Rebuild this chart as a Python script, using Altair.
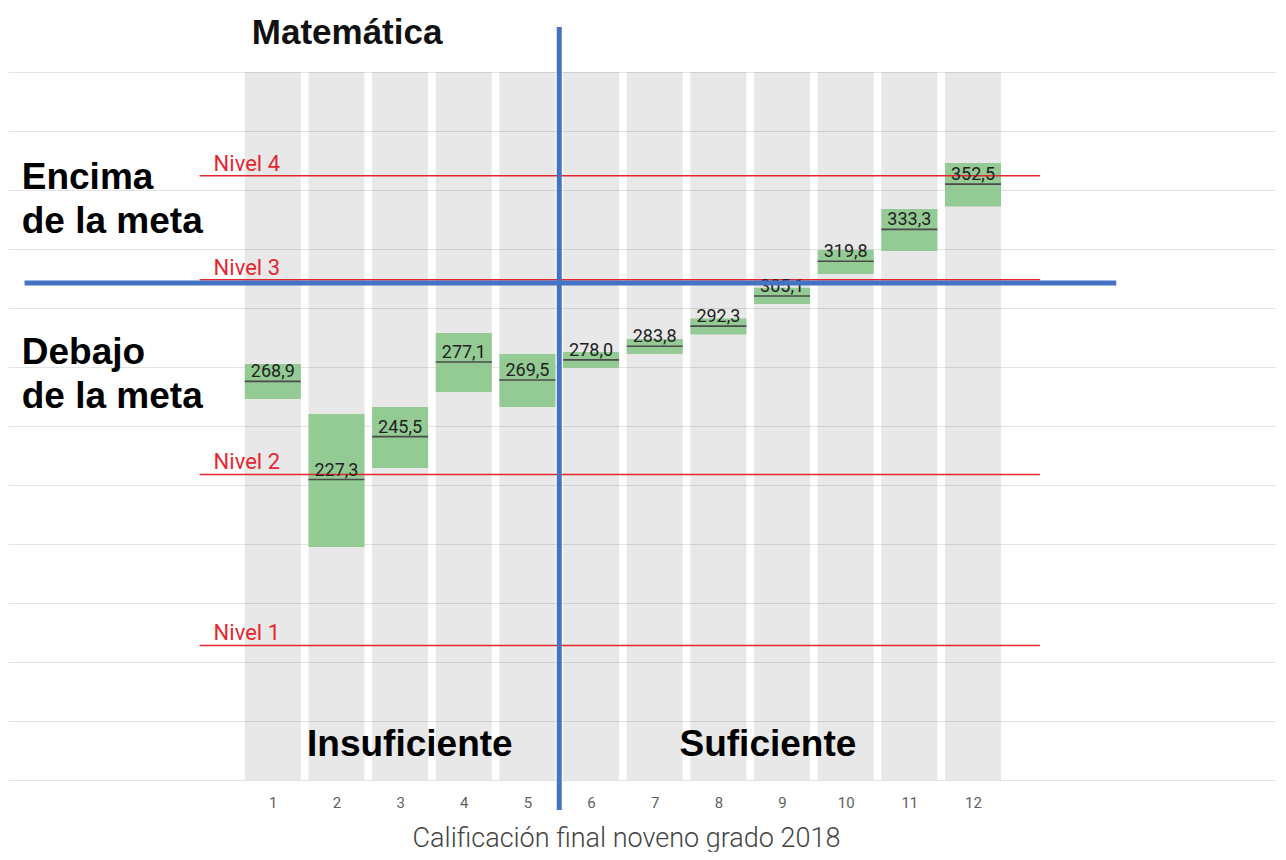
import altair as alt
import pandas as pd

# ---- data ----
grados = [1, 2, 3, 4, 5, 6, 7, 8, 9, 10, 11, 12]
medianas = [268.9, 227.3, 245.5, 277.1, 269.5, 278.0, 283.8, 292.3, 305.1, 319.8, 333.3, 352.5]
limite_inf = [261.4, 198.7, 232.2, 264.4, 258.1, 274.6, 280.5, 288.8, 301.7, 314.4, 324.2, 343.0]
limite_sup = [276.3, 255.1, 258.1, 289.4, 280.5, 281.4, 286.9, 295.6, 308.6, 324.6, 342.0, 361.4]
niveles = ["Nivel 1", "Nivel 2", "Nivel 3", "Nivel 4"]
niveles_valor = [157.0, 229.5, 312.0, 356.0]
grid_valores = [100, 125, 150, 175, 200, 225, 250, 275, 300, 325, 350, 375, 400]

HALF = 0.44
XDOM = [-3.16, 16.76]
YDOM = [100, 400]

df = pd.DataFrame({
    "grado": grados,
    "mediana": medianas,
    "inf": limite_inf,
    "sup": limite_sup,
})
df["x1"] = df["grado"] - HALF
df["x2"] = df["grado"] + HALF
df["fondo_lo"] = YDOM[0]
df["fondo_hi"] = YDOM[1]
df["etiqueta"] = [f"{v:.1f}".replace(".", ",") for v in medianas]

df_niv = pd.DataFrame({"nivel": niveles, "valor": niveles_valor})
df_niv["xa"] = -0.15
df_niv["xb"] = 13.05
df_niv["xt"] = 0.07

xs = alt.Scale(domain=XDOM, nice=False, zero=False)
ys = alt.Scale(domain=YDOM, nice=False, zero=False)

XAX = alt.Axis(
    values=grados, format="d", grid=False, domain=False, ticks=False,
    labelFontSize=15, labelColor="#5f5f5f", labelFont="Roboto", labelPadding=15,
    title="Calificación final noveno grado 2018", titleFontSize=27,
    titleFont="Roboto", titleFontWeight=300, titleColor="#444444",
    titlePadding=15, titleX=618)
YAX = alt.Axis(
    values=grid_valores, labels=False, ticks=False, domain=False, grid=True,
    gridColor="#e4e4e4", gridWidth=1, title="")

RED = "#e6262f"
BLUE = "#4472c4"
GREEN = "#94ca94"


def X(f):
    return alt.X(f, scale=xs, axis=XAX, title="Calificación final noveno grado 2018")


def Y(f):
    return alt.Y(f, scale=ys, axis=YAX, title="")


fondo = alt.Chart(df).mark_rect(color="#000000", opacity=0.09).encode(
    x=X("x1:Q"), x2="x2:Q", y=Y("fondo_lo:Q"), y2="fondo_hi:Q",
)

cajas = alt.Chart(df).mark_rect(color=GREEN).encode(
    x=X("x1:Q"), x2="x2:Q", y=Y("inf:Q"), y2="sup:Q",
)

medias = alt.Chart(df).mark_rule(color="#4a4a4a", strokeWidth=1.6).encode(
    x=X("x1:Q"), x2="x2:Q", y=Y("mediana:Q"),
)

lineas_niv = alt.Chart(df_niv).mark_rule(color=RED, strokeWidth=1.5).encode(
    x=X("xa:Q"), x2="xb:Q", y=Y("valor:Q"),
)

textos_niv = alt.Chart(df_niv).mark_text(
    color=RED, font="Roboto", fontSize=22, align="left", baseline="alphabetic", dy=-5
).encode(
    x=X("xt:Q"), y=Y("valor:Q"), text="nivel:N",
)

etiquetas = alt.Chart(df).mark_text(
    color="#222222", font="Roboto", fontSize=18, align="center", baseline="alphabetic", dy=-4
).encode(
    x=X("grado:Q"), y=Y("mediana:Q"), text="etiqueta:N",
)

# blue annotation lines
df_vert = pd.DataFrame({"x": [5.5], "ya": [87.3], "yb": [419.1]})
df_hor = pd.DataFrame({"xa": [-2.9], "xb": [14.25], "y": [310.6]})

vert = alt.Chart(df_vert).mark_rule(color=BLUE, strokeWidth=5).encode(
    x=X("x:Q"), y=Y("ya:Q"), y2="yb:Q",
)
hor = alt.Chart(df_hor).mark_rule(color=BLUE, strokeWidth=5).encode(
    x=X("xa:Q"), x2="xb:Q", y=Y("y:Q"),
)

# text annotations
df_lados = pd.DataFrame({
    "texto": ["Encima\nde la meta", "Debajo\nde la meta"],
    "x": [-2.944, -2.944],
    "y": [350.4, 276.3],
})
lados = alt.Chart(df_lados).mark_text(
    font="Liberation Sans", fontWeight="bold", fontSize=37, align="left",
    baseline="alphabetic", lineBreak="\n", lineHeight=44, color="#000000"
).encode(
    x=X("x:Q"), y=Y("y:Q"), text="texto:N",
)

df_cat = pd.DataFrame({
    "texto": ["Insuficiente", "Suficiente"],
    "x": [3.153, 8.778],
    "y": [110.0, 110.0],
})
cat = alt.Chart(df_cat).mark_text(
    font="Liberation Sans", fontWeight="bold", fontSize=37, align="center",
    baseline="alphabetic", color="#000000"
).encode(
    x=X("x:Q"), y=Y("y:Q"), text="texto:N",
)

df_tit = pd.DataFrame({"texto": ["Matemática"], "x": [0.67], "y": [411.9]})
tit = alt.Chart(df_tit).mark_text(
    font="Liberation Sans", fontWeight="bold", fontSize=35, align="left",
    baseline="alphabetic", color="#111111"
).encode(
    x=X("x:Q"), y=Y("y:Q"), text="texto:N",
)

chart = alt.layer(
    fondo, cajas, lineas_niv, medias, etiquetas, textos_niv, vert, hor, lados, cat, tit
).properties(
    width=1268, height=708,
    background="white",
    autosize=alt.AutoSizeParams(type="none"),
    padding={"left": 0, "top": 64, "right": 0, "bottom": 72},
).configure_view(stroke=None)

chart.save("out.html", embed_options={"renderer": "svg", "actions": False})
